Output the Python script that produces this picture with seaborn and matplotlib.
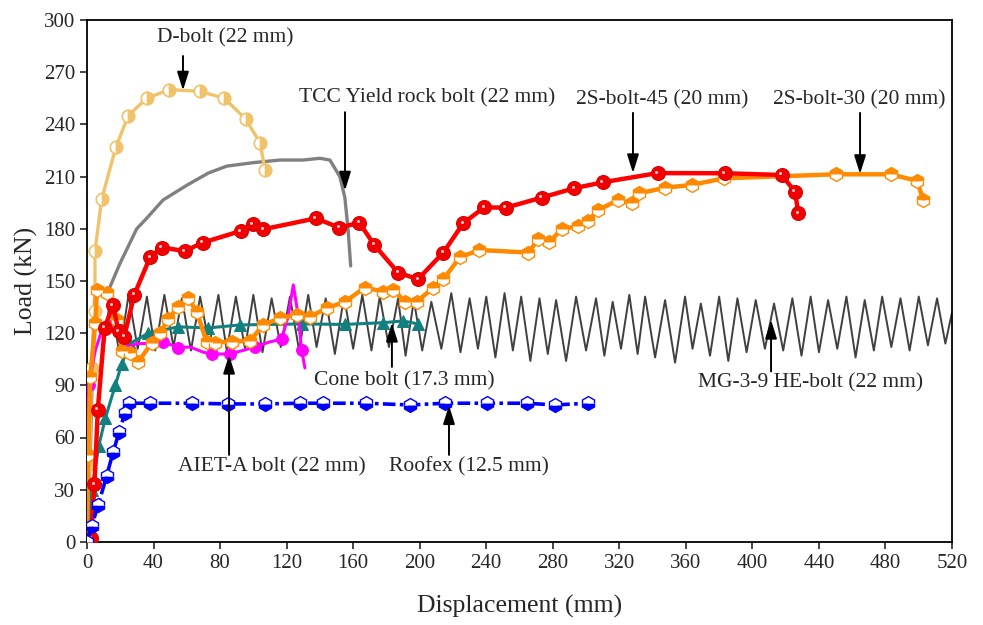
import numpy as np
import pandas as pd
import matplotlib
matplotlib.use("Agg")
import matplotlib.pyplot as plt
import matplotlib.transforms as mtransforms
import seaborn as sns

sns.set_style("ticks")
plt.rcParams['font.family'] = ['Liberation Serif', 'DejaVu Serif']
plt.rcParams['mathtext.fontset'] = 'stix'

# ---- data (displacement mm, load kN) ----
dbolt_x = [0, 1.5, 2.8, 4.8, 4.8, 8.8, 17.4, 24.8, 35.9, 49.5, 67.9, 82.6, 95.4, 104, 107]
dbolt_y = [0, 45, 100, 133, 167, 197, 227, 245, 255, 260, 259, 255, 243, 229.5, 214]

tcc_x = [0, 2, 3.5, 4.8, 7, 11.8, 19.8, 29.9, 34.9, 45.7, 60, 72.9, 84, 100, 116, 130, 140, 146, 152, 155, 157, 158.5]
tcc_y = [0, 50, 110, 147, 145, 142, 160, 180, 185, 196.5, 205, 212, 216, 218, 219.5, 219.5, 220.5, 219.5, 210, 198, 179, 158.6]

s45_x = [2.5, 4.5, 6.5, 10.6, 15.6, 19, 22.4, 28.4, 37.9, 44.9, 58.9, 69.5, 92.4, 99.6, 106,
         137.6, 151.7, 163.7, 172.7, 187, 199, 214.2, 226.2, 238.8, 251.7, 273.3, 292.9, 310,
         343, 383.5, 417.6, 425.6, 427.6]
s45_y = [2, 33, 76, 123, 136, 121, 118, 142, 163.6, 169.2, 167.2, 172, 178.7, 182.6, 179.7,
         186, 180.6, 183.5, 170.7, 154.8, 151, 166.3, 183.2, 192.3, 192.1, 197.9, 203.3, 206.7,
         212, 211.9, 210.9, 201.3, 188.9]

s30_x = [0, 0.8, 2, 5, 6, 12, 17.8, 21, 25.8, 30.8, 38.9, 43.9, 48.9, 54.9, 60.9, 65.9, 71.9,
         76.9, 87, 98, 106, 116, 126, 134, 144.1, 155.1, 167.1, 178.1, 184.1, 191.2, 198.2,
         207.8, 214.2, 224.2, 235.8, 265.3, 271.3, 277.7, 285.3, 295.3, 301.4, 307.4, 319.4,
         327.4, 332, 347.5, 363.5, 382.9, 450.2, 483.1, 498.8, 502.8]
s30_y = [0, 50, 95, 126, 145, 143, 127.6, 110, 108.4, 103.6, 114.2, 119.9, 128, 135.2, 140,
         132.4, 115.1, 114.6, 115.1, 115.7, 124.7, 128.6, 130.5, 129.5, 134.3, 138.1, 146.2,
         143.9, 144.8, 138.1, 138.1, 145.8, 151, 163.6, 167.8, 166.3, 174, 172.2, 179.7, 181.6,
         184.5, 190.8, 196.6, 194.6, 200.4, 203.6, 205.2, 209, 211.3, 211.3, 207.6, 196.6]

cone_x = [0, 3, 7, 11, 17, 20.8, 25.8, 36.9, 54.7, 72.9, 92, 129, 155, 178, 190, 199]
cone_y = [0, 30, 55, 71, 90, 102, 114, 120, 123.6, 123, 124.7, 125.3, 125, 126, 127, 125.3]

aiet_x = [0, 1, 5, 10, 15, 20, 25, 30, 35, 39.9, 45.9, 54.9, 62, 70, 75, 86, 101, 110, 117,
          121, 124, 127, 129, 131]
aiet_y = [0, 90, 110, 125, 127, 118, 112, 114, 114, 115, 115, 111.7, 112, 109, 108, 108, 112,
          115, 116.5, 130, 147.7, 130, 110.3, 100]
aiet_marks = [1, 9, 10, 11, 14, 15, 16, 18, 22]

roofex_x = [0, 2.8, 6.8, 11.8, 15.8, 19.4, 22.8, 25.4, 37.9, 62.9, 85, 107, 128, 142, 168,
            194, 215.2, 240.3, 264.3, 281.3, 301.4]
roofex_y = [0, 9.2, 21.3, 37.9, 51.9, 63.4, 74, 79.7, 79.7, 79.7, 79.3, 79.3, 79.7, 79.7, 79.7,
            78.7, 79.7, 79.7, 79.7, 78.7, 79.7]

mg_x = [10, 14, 19.5, 25, 30.5, 36, 41, 46.5, 52, 57,
        62.5, 68, 73.5, 79, 84, 89.5, 95, 100, 105.5, 111,
        116.5, 122, 127.5, 133, 138, 143.5, 149, 154.5, 160, 165.5,
        171, 176, 181.5, 187, 191.5, 196.5, 201.5, 207, 213, 219,
        224.5, 230, 235, 240, 245.5, 251, 256, 261, 266.5, 272,
        277, 282, 288, 294, 300, 306, 311, 316, 321, 326,
        331, 335.5, 341.5, 347.5, 353.5, 359.5, 364, 369, 374.5, 380,
        385.5, 391, 396.5, 402, 407.5, 413, 418.5, 424, 429.5, 435,
        440, 445.5, 451, 456.5, 462, 467.5, 473, 478, 483.5, 489,
        494.5, 500, 505.5, 511, 516, 520]
mg_y = [112, 140, 108, 142, 111, 141, 110, 142, 112, 140,
        110, 141, 113, 142, 110, 141, 111, 142, 109, 140,
        112, 141, 110, 142, 112, 140, 108, 141, 111, 142,
        110, 141, 112, 140, 107, 139, 110, 138, 111, 143,
        109, 140, 111, 141, 106, 143, 110, 141, 104, 140,
        108, 139, 104, 141, 110, 140, 107, 138, 111, 142,
        108, 141, 106, 139, 103, 141, 111, 137, 107, 141,
        104, 140, 109, 139, 111, 137, 110, 140, 107, 141,
        109, 139, 111, 141, 106, 139, 110, 141, 112, 140,
        110, 141, 113, 140, 114, 132]

x_ticks = list(range(0, 521, 40))
y_ticks = list(range(0, 301, 30))

# labels: text, text position, arrow tail, arrow tip
labels = [
    ("D-bolt (22 mm)", (83, 289.7), (57.7, 279.3), (57.7, 259.5)),
    ("TCC Yield rock bolt (22 mm)", (204.7, 255.2), (155.1, 247), (155.1, 202)),
    ("2S-bolt-45 (20 mm)", (346, 254), (328.2, 246.6), (328.2, 212)),
    ("2S-bolt-30 (20 mm)", (464, 254), (464.7, 246.6), (464.7, 211.5)),
    ("Cone bolt (17.3 mm)", (190.9, 92.5), (183.3, 100.6), (183.3, 125.9)),
    ("AIET-A bolt (22 mm)", (110.9, 43), (85.4, 50), (85.4, 107.5)),
    ("Roofex (12.5 mm)", (229.3, 43), (217.6, 50), (217.6, 78.5)),
    ("MG-3-9 HE-bolt (22 mm)", (435.2, 91.4), (411.2, 98), (411.2, 127.6)),
]

fig, ax = plt.subplots(figsize=(9.83, 6.25), dpi=100)
fig.subplots_adjust(left=0.0885, right=0.9685, bottom=0.133, top=0.968)


def draw(x, y, **kw):
    sns.lineplot(x=x, y=y, sort=False, estimator=None, ax=ax, **kw)


draw(mg_x, mg_y, color='#404040', lw=1.4, zorder=2)
draw(tcc_x, tcc_y, color='#808080', lw=2.4, zorder=3)
draw(dbolt_x, dbolt_y, color='#F0C36A', lw=2.4, marker='o', ms=9, fillstyle='right',
     markerfacecolor='#F0C36A', markerfacecoloralt='white', markeredgecolor='#F0C36A',
     markeredgewidth=1.2, zorder=4)
draw(cone_x, cone_y, color='#12807E', lw=2.2, marker='^', ms=8, markerfacecolor='#12807E',
     markeredgecolor='#12807E', zorder=4)
draw(aiet_x, aiet_y, color='#FF00FF', lw=2.2, marker='o', ms=8.5, markevery=aiet_marks,
     markerfacecolor='#FF00FF', markeredgecolor='#FF00FF', zorder=5)
draw(s30_x, s30_y, color='#FF8A00', lw=3.2, marker='h', ms=10, fillstyle='top',
     markerfacecolor='#FF8A00', markerfacecoloralt='white', markeredgecolor='#FF8A00',
     markeredgewidth=1.0, zorder=6)
draw(s45_x, s45_y, color='#FF0000', lw=3.2, marker='o', ms=10, markerfacecolor='#F00000',
     markeredgecolor='#E00000', markeredgewidth=0.8, zorder=7)
# little highlight on the red balls
hl = mtransforms.offset_copy(ax.transData, fig=fig, x=-1.5, y=1.5, units='dots')
ax.plot(s45_x, s45_y, ls='none', marker='o', ms=2.2, markeredgewidth=0,
        color='#FFC8C8', transform=hl, zorder=8)
draw(roofex_x, roofex_y, color='#0000FF', lw=2.6, linestyle=(0, (3.5, 1.2, 1, 1.2)),
     marker='h', ms=10, fillstyle='bottom', markerfacecolor='#0000FF',
     markerfacecoloralt='white', markeredgecolor='#0000FF', markeredgewidth=1.0, zorder=8)

for text, tpos, tail, tip in labels:
    ax.annotate('', xy=tip, xytext=tail,
                arrowprops=dict(arrowstyle='-|>,head_length=0.7,head_width=0.22',
                                color='black', lw=1.4,
                                mutation_scale=16, shrinkA=0, shrinkB=0), zorder=9)
    ax.text(tpos[0], tpos[1], text, ha='center', va='center', fontsize=15.5, zorder=9)

ax.set_xlim(0, 520)
ax.set_ylim(0, 300)
ax.set_xticks(x_ticks)
ax.set_yticks(y_ticks)
ax.tick_params(axis='both', labelsize=15, direction='out', length=5, width=1.2)
ax.set_xlabel('Displacement (mm)', fontsize=18.5, labelpad=16)
ax.set_ylabel('Load (kN)', fontsize=18.5, labelpad=4)
for sp in ax.spines.values():
    sp.set_visible(True)
    sp.set_linewidth(1.3)
    sp.set_color('black')

fig.savefig('out.png', dpi=100)
